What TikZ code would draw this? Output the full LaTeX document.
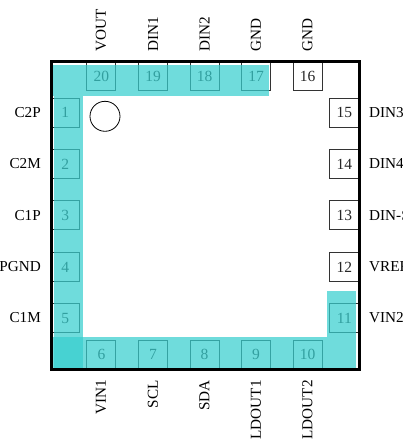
\documentclass[tikz,border=0pt]{standalone}
\usepackage{fontspec}
\setmainfont{Liberation Serif}
\definecolor{bandcol}{RGB}{55,206,206}
\tikzset{
pinbox/.style={rectangle, draw=black!80, line width=0.9pt, minimum size=29pt, inner sep=0pt, font=\fontsize{15.5}{18}\selectfont, text=black!85},
pintxt/.style={inner sep=0pt, font=\fontsize{15.2}{18}\selectfont},
toptxt/.style={pintxt, rotate=90, anchor=west},
bottxt/.style={pintxt, rotate=90, anchor=east},
band/.style={fill=bandcol, fill opacity=0.72}
}
\begin{document}
\begin{tikzpicture}[x=1pt,y=-1pt]
\useasboundingbox (0,0) rectangle (403,439);
\clip (0,0) rectangle (403,439);
\node[pinbox] (pin1) at (65.3,112.5){1};
\node[pinbox] (pin2) at (65.3,164){2};
\node[pinbox] (pin3) at (65.3,215.4){3};
\node[pinbox] (pin4) at (65.3,267){4};
\node[pinbox] (pin5) at (65.3,318.3){5};
\node[pinbox] (pin6) at (101.4,354.8){6};
\node[pinbox] (pin7) at (153,354.8){7};
\node[pinbox] (pin8) at (204.5,354.8){8};
\node[pinbox] (pin9) at (256,354.8){9};
\node[pinbox] (pin10) at (307.7,354.8){10};
\node[pinbox] (pin11) at (344.4,318.3){11};
\node[pinbox] (pin12) at (344.4,267){12};
\node[pinbox] (pin13) at (344.4,215.4){13};
\node[pinbox] (pin14) at (344.4,164){14};
\node[pinbox] (pin15) at (344.4,112.5){15};
\node[pinbox] (pin16) at (307.7,76){16};
\node[pinbox] (pin17) at (256,76){17};
\node[pinbox] (pin18) at (204.5,76){18};
\node[pinbox] (pin19) at (153,76){19};
\node[pinbox] (pin20) at (101.4,76){20};
\node[pintxt, anchor=east] (txt1) at (41,113){C2P};
\node[pintxt, anchor=east] (txt2) at (41,164){C2M};
\node[pintxt, anchor=east] (txt3) at (41,215.5){C1P};
\node[pintxt, anchor=east] (txt4) at (41,267){PGND};
\node[pintxt, anchor=east] (txt5) at (41,318){C1M};
\node[bottxt] (txt6) at (101,380){VIN1};
\node[bottxt] (txt7) at (153,380){SCL};
\node[bottxt] (txt8) at (204.5,380){SDA};
\node[bottxt] (txt9) at (256,380){LDOUT1};
\node[bottxt] (txt10) at (307.5,380){LDOUT2};
\node[pintxt, anchor=west] (txt11) at (369,318){VIN2};
\node[pintxt, anchor=west] (txt12) at (369,267){VREF};
\node[pintxt, anchor=west] (txt13) at (369,215.5){DIN-S};
\node[pintxt, anchor=west] (txt14) at (369,164){DIN4};
\node[pintxt, anchor=west] (txt15) at (369,113){DIN3};
\node[toptxt] (txt16) at (307.5,52){GND};
\node[toptxt] (txt17) at (256,52){GND};
\node[toptxt] (txt18) at (204.5,52){DIN2};
\node[toptxt] (txt19) at (153,52){DIN1};
\node[toptxt] (txt20) at (101,52){VOUT};
\node[circle, draw, line width=0.8pt, minimum size=30pt, inner sep=0pt] (dot1) at (105,116.3){};
\fill[band] (53,65) rectangle (269,95.7);
\fill[band] (54,95.7) rectangle (82.7,368);
\fill[band] (53,337) rectangle (356,368);
\fill[band] (327,291) rectangle (356,337);
\draw[line width=3pt] (51,61.7) rectangle (359,369.5);
\end{tikzpicture}
\end{document}
